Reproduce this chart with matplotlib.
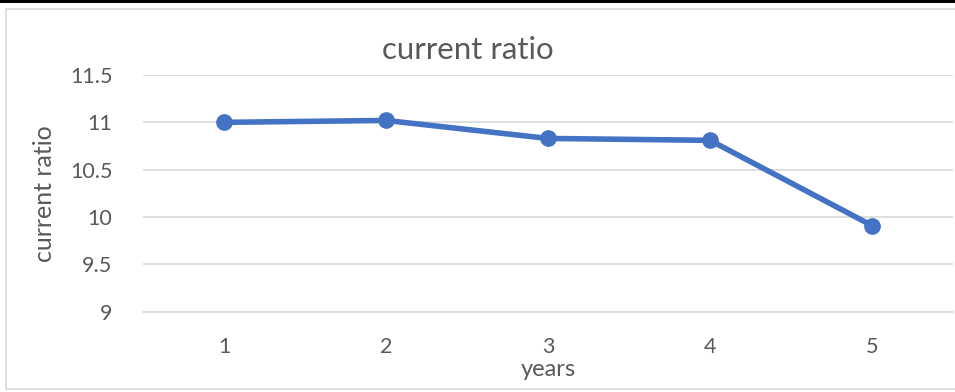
import matplotlib.pyplot as plt
from matplotlib.patches import Rectangle

years = [1, 2, 3, 4, 5]
current_ratio = [11.0, 11.02, 10.83, 10.81, 9.91]
y_ticks = [9, 9.5, 10, 10.5, 11, 11.5]
y_tick_labels = ["9", "9.5", "10", "10.5", "11", "11.5"]

text_color = "#595959"
line_color = "#4472C4"
grid_color = "#D9D9D9"

plt.rcParams["font.family"] = ["Lato", "DejaVu Sans"]

W, H = 955, 392
fig = plt.figure(figsize=(W / 100, H / 100), dpi=100)

# frame around the chart plus the dark strip along the top
fig.patches.append(Rectangle((6 / W, 1 - 389 / H), 1.0, 380 / H,
                             transform=fig.transFigure, fill=False,
                             edgecolor="#D9D9D9", linewidth=1.2))
fig.patches.append(Rectangle((0, 1 - 3 / H), 1.0, 3 / H,
                             transform=fig.transFigure, color="black",
                             linewidth=0))

ax = fig.add_axes([143 / W, 1 - 311.7 / H, (953 - 143) / W, (311.7 - 75) / H])
ax.plot(years, current_ratio, color=line_color, linewidth=4.0,
        marker="o", markersize=11, solid_capstyle="round", zorder=3)

ax.set_xlim(0.5, 5.5)
ax.set_ylim(9, 11.5)
ax.set_xticks(years)
ax.set_xticklabels([str(y) for y in years])
ax.set_yticks(y_ticks)
ax.set_yticklabels(y_tick_labels)

ax.grid(axis="y", color=grid_color, linewidth=1.2)
ax.set_axisbelow(True)
for side in ["top", "right", "left"]:
    ax.spines[side].set_visible(False)
ax.spines["bottom"].set_color(grid_color)
ax.spines["bottom"].set_linewidth(1.2)
ax.tick_params(axis="both", length=0, labelsize=15.5, colors=text_color)
ax.tick_params(axis="y", pad=22)
ax.tick_params(axis="x", pad=18)

ax.set_xlabel("years", fontsize=17, color=text_color, labelpad=2)
ax.set_ylabel("current ratio", fontsize=18, color=text_color, labelpad=10)
fig.text(468 / W, 1 - 50 / H, "current ratio", ha="center", va="center",
         fontsize=22.5, color=text_color)

fig.savefig("out.png", dpi=100)
